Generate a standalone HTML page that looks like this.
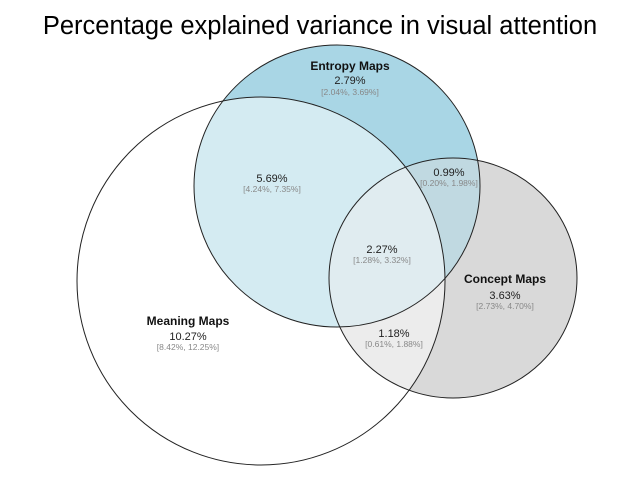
<!DOCTYPE html>
<html><head><meta charset="utf-8"><style>
html,body{margin:0;padding:0;background:#fff;}
svg{display:block;font-family:"Liberation Sans",Arial,sans-serif;}
.t{font-size:25.5px;fill:#000;}
.b{font-size:12px;font-weight:bold;fill:#111;}
.v{font-size:11px;fill:#222;}
.c{font-size:8.5px;fill:#888;}
</style></head><body>
<svg width="640" height="480" viewBox="0 0 640 480">
<defs>
<clipPath id="ce"><ellipse cx="337" cy="186" rx="143" ry="141"/></clipPath>
</defs>
<rect width="640" height="480" fill="#fff"/>
<text class="t" x="320" y="34" text-anchor="middle">Percentage explained variance in visual attention</text>
<ellipse cx="453" cy="278" rx="124" ry="120" fill="#d9d9d9"/>
<ellipse cx="337" cy="186" rx="143" ry="141" fill="#a9d6e5"/>
<ellipse cx="453" cy="278" rx="124" ry="120" fill="#c0d9e1" clip-path="url(#ce)"/>
<ellipse cx="261" cy="281" rx="184" ry="184" fill="#fff" fill-opacity="0.5"/>
<g fill="none" stroke="#222" stroke-width="1">
<ellipse cx="261" cy="281" rx="184" ry="184"/>
<ellipse cx="337" cy="186" rx="143" ry="141"/>
<ellipse cx="453" cy="278" rx="124" ry="120"/>
</g>
<g text-anchor="middle">
<text class="b" x="350" y="70">Entropy Maps</text>
<text class="v" x="350" y="84">2.79%</text>
<text class="c" x="350" y="95">[2.04%, 3.69%]</text>
<text class="v" x="272" y="182">5.69%</text>
<text class="c" x="272" y="192">[4.24%, 7.35%]</text>
<text class="v" x="449" y="176">0.99%</text>
<text class="c" x="449" y="186">[0.20%, 1.98%]</text>
<text class="v" x="382" y="253">2.27%</text>
<text class="c" x="382" y="263">[1.28%, 3.32%]</text>
<text class="b" x="505" y="283">Concept Maps</text>
<text class="v" x="505" y="299">3.63%</text>
<text class="c" x="505" y="309">[2.73%, 4.70%]</text>
<text class="b" x="188" y="325">Meaning Maps</text>
<text class="v" x="188" y="340">10.27%</text>
<text class="c" x="188" y="350">[8.42%, 12.25%]</text>
<text class="v" x="394" y="337">1.18%</text>
<text class="c" x="394" y="347">[0.61%, 1.88%]</text>
</g>
</svg>
</body></html>
